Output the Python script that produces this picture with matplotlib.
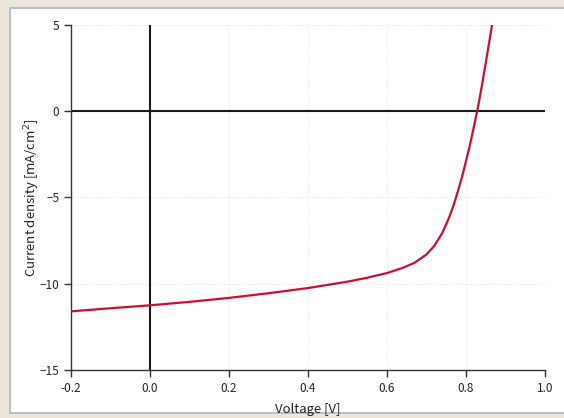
import matplotlib.pyplot as plt
from matplotlib.patches import Rectangle

# J-V curve
voltage = [-0.2, -0.1, 0.0, 0.1, 0.2, 0.3, 0.4, 0.5, 0.55, 0.6, 0.64, 0.67,
           0.70, 0.72, 0.74, 0.75, 0.76, 0.77, 0.78, 0.79, 0.80, 0.81, 0.82,
           0.83, 0.84, 0.85, 0.866]
current = [-11.6, -11.42, -11.25, -11.05, -10.82, -10.55, -10.25, -9.88, -9.65,
           -9.38, -9.08, -8.78, -8.3, -7.8, -7.05, -6.55, -6.0, -5.35, -4.6,
           -3.8, -2.9, -1.95, -0.9, 0.2, 1.45, 2.8, 5.0]
xticks = [-0.2, 0.0, 0.2, 0.4, 0.6, 0.8, 1.0]
yticks = [-15, -10, -5, 0, 5]

plt.rcParams['font.family'] = ['Noto Sans CJK JP', 'DejaVu Sans']

fig = plt.figure(figsize=(5.64, 4.18), dpi=100, facecolor='#ece7da')
# white panel with a thin blue-grey frame
panel = Rectangle((10 / 564, 1 - 413 / 418), 560 / 564, 405 / 418,
                  transform=fig.transFigure, facecolor='white',
                  edgecolor='#a9b6c2', linewidth=1.2, zorder=-1)
fig.patches.append(panel)

ax = fig.add_axes([71 / 564, 1 - 370 / 418, 474 / 564, 345 / 418])
ax.set_zorder(1)
ax.set_facecolor('none')

ax.plot(voltage, current, color='#c8102e', linewidth=1.6, zorder=3)
ax.axhline(0, color='#1a1a1a', linewidth=1.5, zorder=2)
ax.axvline(0, color='#1a1a1a', linewidth=1.5, zorder=2)

ax.set_xlim(-0.2, 1.0)
ax.set_ylim(-15, 5)
ax.set_xticks(xticks)
ax.set_yticks(yticks)
ax.set_xticklabels(['%.1f' % t for t in xticks])
ax.set_yticklabels(['\u2212%d' % -t if t < 0 else '%d' % t for t in yticks])

ax.grid(True, color='#dddddd', linestyle=':', linewidth=0.6)
ax.spines['top'].set_visible(False)
ax.spines['right'].set_visible(False)
for s in ['left', 'bottom']:
    ax.spines[s].set_color('#333333')
    ax.spines[s].set_linewidth(1.0)
ax.tick_params(direction='out', length=5, width=1.0, colors='#333333',
               labelsize=8.5, labelcolor='#222222')

ax.set_xlabel('Voltage [V]', fontsize=9.5, color='#222222', labelpad=6)
ax.set_ylabel('Current density [mA/cm$^2$]', fontsize=9.5, color='#222222',
              labelpad=-2)

fig.savefig('out.png', dpi=100, facecolor=fig.get_facecolor())
